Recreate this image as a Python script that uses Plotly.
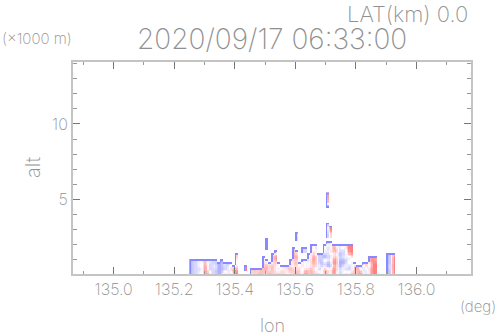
import numpy as np
import plotly.graph_objects as go

# radial wind section (bottom row first)
# . = no echo, c/b/a = blue levels, 0 = white, 1/2/3 = red levels
lon_start = 135.255
lon_step = 0.01
alt_start = 0.17
alt_step = 0.2

columns = [
    "bbbbb", "aaaaa", "aaaaa", "0a000", "00001", "33322", "1aaa0", "aaaaa",
    "aa0aa", "bbbb", "bbbbc", "1aa0", "0aab", "a01a", "13a", "3210011",
    "", "", ".33.", "", "11", "12", "11", "21",
    "121110", "1221a...cccc", "2010", "1221010", "10012310", "1a00", "110", "101",
    "011", "12100", "110112221", "21121210...aa3", "110a", "0a110..aa", "32a00..aa", "1100aa0",
    "2211211011", "10122311a0", "1a00aab", "0aabbaa", "120a1bb11a", "21ab0aaaa0a.bbbbb.....c1223",
    "a0bbaaa1a0a.1133", "3312210122", "1223321220", "aabbbabaaa", "a0abbaaa01",
    "1a0ab0aaa0", "0aa00a1233", "1aa0002333", "211a", "123", "31a", "0aa1", "a012",
    "110a21", "333333", "333322", "", "", "", "", "bbbbbbb", "aa0aaaa", "3333332", "",
]
columns = columns[:65] + columns[66:]

zvals = [-3, -2, -1, 0, 1, 2, 3]
codes = "cba0123"
n_rows = 27
alt_ticks = [5, 10]
lon_ticks = [135.0, 135.2, 135.4, 135.6, 135.8, 136.0]
lon_labels = ["135.0", "135.2", "135.4", "135.6", "135.8", "136.0"]

z = np.full((n_rows, len(columns)), np.nan)
for i, col in enumerate(columns):
    for j, ch in enumerate(col):
        if ch != ".":
            z[j, i] = zvals[codes.index(ch)]

# twice as fine so the echo outline stays thin
f = 2
z2 = np.repeat(np.repeat(z, f, axis=0), f, axis=1)
mask = ~np.isnan(z2)

# soften the interior a little, ignoring empty cells
pad_z = np.pad(np.nan_to_num(z2), 1)
pad_m = np.pad(mask.astype(float), 1)
weights = sum(np.roll(np.roll(pad_m, a, 0), b, 1) for a in (-1, 0, 1) for b in (-1, 0, 1))
totals = sum(np.roll(np.roll(pad_z * pad_m, a, 0), b, 1) for a in (-1, 0, 1) for b in (-1, 0, 1))
smooth = (totals / np.maximum(weights, 1))[1:-1, 1:-1]
z2 = np.where(mask, smooth, 0.0)

# outline on top and left only, so narrow columns keep their colour
pad = np.pad(mask, 1, constant_values=False)
inner = pad[2:, 1:-1] & pad[1:-1, :-2]
z2[mask & ~inner] = -3

lon = lon_start - lon_step / 2 + lon_step / f * (np.arange(z2.shape[1]) + 0.5)
alt = alt_start - alt_step / 2 + alt_step / f * (np.arange(z2.shape[0]) + 0.5)

gray = "#909090"
font_name = "Inter"
fig = go.Figure(go.Heatmap(
    x=lon, y=alt, z=z2, zmin=-3, zmax=3, showscale=False, hoverinfo="skip",
    colorscale=[[0, "#8888ff"], [0.5, "#ffffff"], [1, "#ff8080"]],
))


def label(text, px, py, size, anchor="center", angle=0):
    fig.add_annotation(text=text, x=(px - 73) / 398, y=(274 - py) / 212, xref="paper", yref="paper",
                       xanchor=anchor, yanchor="middle", showarrow=False, textangle=angle,
                       font=dict(family=font_name, size=size, color=gray, weight=200))


label("LAT(km) 0.0", 470, 14, 22, "right")
label("2020/09/17 06:33:00", 272, 39, 28)
label("(×1000 m)", 0, 38, 15, "left")
label("(deg)", 498, 306, 15, "right")
label("lon", 272, 325, 18)
label("alt", 33, 168, 20, angle=-90)

axis_common = dict(
    showgrid=False, zeroline=False, showline=True, linecolor="#c4c4c4", linewidth=2, mirror="allticks",
    ticks="inside", ticklen=7, tickwidth=1, tickcolor="#777777",
    tickfont=dict(family=font_name, size=16, color=gray, weight=200),
)
fig.update_xaxes(range=[134.866, 136.18], tickvals=lon_ticks, ticktext=lon_labels,
                 minor=dict(dtick=0.1, tick0=135.0, ticks="inside", ticklen=3, tickcolor="#999999"),
                 **axis_common)
fig.update_yaxes(range=[0.07, 14.1], tickvals=alt_ticks,
                 minor=dict(dtick=1, tick0=0, ticks="inside", ticklen=4, tickcolor="#999999"),
                 **axis_common)
fig.update_layout(width=498, height=336, autosize=False, plot_bgcolor="white", paper_bgcolor="white",
                  margin=dict(l=73, r=27, t=62, b=62), showlegend=False)

fig.write_html("out.html", config={"displayModeBar": False},
               post_script="document.body.style.margin='0';document.documentElement.style.overflow='hidden';")
